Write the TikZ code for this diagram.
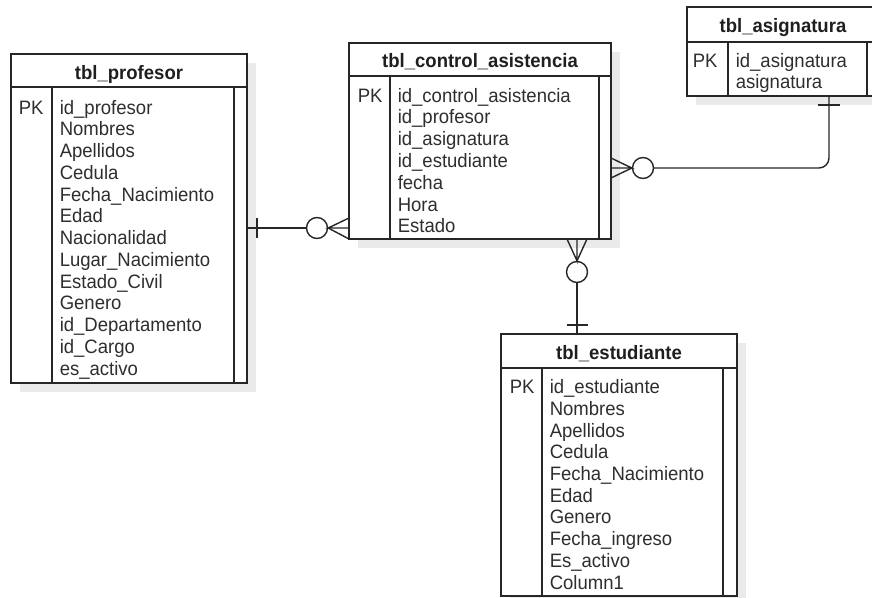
\documentclass[tikz,border=0pt]{standalone}
\usepackage{fontspec}
\setmainfont{Liberation Sans}[FakeStretch=0.955]
\definecolor{ln}{HTML}{262626}
\definecolor{tx}{HTML}{2E2E2E}
\definecolor{shd}{HTML}{EAEAEA}
\begin{document}
\begin{tikzpicture}[x=1pt,y=-1pt,line width=1.5pt,
  tbl/.style={draw=ln,fill=white,rectangle,inner sep=0pt,outer sep=0pt,anchor=north west},
  fld/.style={anchor=base west,inner sep=0pt,text=tx,font=\fontsize{19.4}{22}\selectfont},
  hdr/.style={anchor=base,inner sep=0pt,text=black!88,font=\fontsize{19.4}{22}\selectfont\bfseries},
  rel/.style={draw=ln,line width=1.4pt},
  zero/.style={circle,draw=ln,fill=white,line width=1.4pt,minimum size=21pt,inner sep=0pt}]
\useasboundingbox (0,0) rectangle (872,597);
% ---------- shadows ----------
\fill[shd] (20,63) rectangle (256,392);
\fill[shd] (358,52) rectangle (620,248);
\fill[shd] (696,16) rectangle (888,105);
\fill[shd] (510,343) rectangle (746,610);
% ---------- tbl_profesor ----------
\node[tbl,minimum width=236pt,minimum height=329pt] (prof) at (11,54) {};
\draw[ln] (11,87) -- (247,87);
\draw[ln] (52,87) -- (52,383);
\draw[ln] (234,87) -- (234,383);
\node[hdr] (prof-t) at (129,79) {tbl\_profesor};
\node[fld] (prof-pk) at (18,114) {PK};
\foreach \t [count=\i] in {id\_profesor,Nombres,Apellidos,Cedula,Fecha\_Nacimiento,Edad,Nacionalidad,Lugar\_Nacimiento,Estado\_Civil,Genero,id\_Departamento,id\_Cargo,es\_activo}
  \node[fld] (prof-f\i) at (59,{114+21.75*(\i-1)}) {\t};
% ---------- tbl_control_asistencia ----------
\node[tbl,minimum width=262pt,minimum height=196pt] (ctrl) at (349,43) {};
\draw[ln] (349,76) -- (611,76);
\draw[ln] (390,76) -- (390,239);
\draw[ln] (599,76) -- (599,239);
\node[hdr] (ctrl-t) at (480,67) {tbl\_control\_asistencia};
\node[fld] (ctrl-pk) at (357,102) {PK};
\foreach \t [count=\i] in {id\_control\_asistencia,id\_profesor,id\_asignatura,id\_estudiante,fecha,Hora,Estado}
  \node[fld] (ctrl-f\i) at (397,{102+21.8*(\i-1)}) {\t};
% ---------- tbl_asignatura ----------
\node[tbl,minimum width=192pt,minimum height=89pt] (asig) at (687,7) {};
\draw[ln] (687,42) -- (879,42);
\draw[ln] (728,42) -- (728,96);
\draw[ln] (867,42) -- (867,96);
\node[hdr] (asig-t) at (783,32) {tbl\_asignatura};
\node[fld] (asig-pk) at (692,67) {PK};
\node[fld] (asig-f1) at (735,67) {id\_asignatura};
\node[fld] (asig-f2) at (735,88.8) {asignatura};
% ---------- tbl_estudiante ----------
\node[tbl,minimum width=236pt,minimum height=262pt] (estu) at (501,334) {};
\draw[ln] (501,368) -- (737,368);
\draw[ln] (542,368) -- (542,596);
\draw[ln] (723,368) -- (723,596);
\node[hdr] (estu-t) at (619,359) {tbl\_estudiante};
\node[fld] (estu-pk) at (509,393.7) {PK};
\foreach \t [count=\i] in {id\_estudiante,Nombres,Apellidos,Cedula,Fecha\_Nacimiento,Edad,Genero,Fecha\_ingreso,Es\_activo,Column1}
  \node[fld] (estu-f\i) at (549,{393.7+21.7*(\i-1)}) {\t};
% ---------- profesor -> control ----------
\coordinate (pa) at (prof.east |- 0,228);
\coordinate (ca) at (ctrl.west |- 0,228);
\node[zero] (z1) at (317,228) {};
\draw[rel] (pa) -- (z1.west);
\draw[rel] (257,218) -- (257,238);
\draw[rel] (ctrl.west |- 0,218) -- (z1.east) -- (ca);
\draw[rel] (z1.east) -- (ctrl.south west);
% ---------- control -> asignatura ----------
\coordinate (cb) at (ctrl.east |- 0,168);
\coordinate (ab) at (829,96);
\node[zero] (z2) at (643,168) {};
\draw[rel] (z2.east) -- (819,168) arc[start angle=90,end angle=0,radius=10] -- (ab);
\draw[rel] (818,105) -- (840,105);
\draw[rel] (ctrl.east |- 0,158) -- (z2.west) -- (cb);
\draw[rel] (z2.west) -- (ctrl.east |- 0,178);
% ---------- control -> estudiante ----------
\coordinate (cc) at (577,239);
\coordinate (ec) at (577,334);
\node[zero] (z3) at (577,272) {};
\draw[rel] (z3.south) -- (ec);
\draw[rel] (566.5,325) -- (587.5,325);
\draw[rel] (567,239) -- (z3.north) -- (cc);
\draw[rel] (z3.north) -- (587,239);
\end{tikzpicture}
\end{document}
